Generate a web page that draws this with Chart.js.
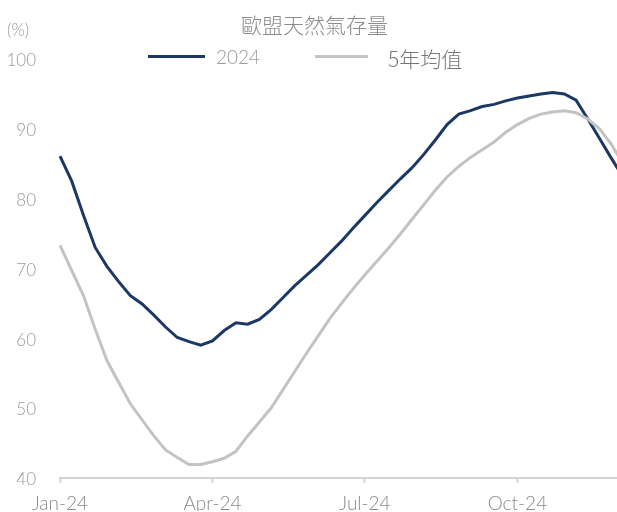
<!DOCTYPE html>
<html>
<head>
<meta charset="utf-8">
<script src="https://cdn.jsdelivr.net/npm/chart.js@4/dist/chart.umd.min.js"></script>
<style>
  html, body { margin: 0; padding: 0; background: #fff; overflow: hidden; }
  body { width: 617px; height: 512px; position: relative; font-family: Lato, "Liberation Sans", sans-serif; }
  #wrap { position: absolute; left: 0; top: 0; width: 633px; height: 512px; }
  .txt { position: absolute; white-space: nowrap; line-height: 1; }
  #title { left: 241px; top: 9px; font: 300 21px "Noto Sans CJK TC", sans-serif; color: #8c8c8c; }
  #unit { left: 7px; top: 19px; font: 300 17px Lato, sans-serif; color: #9a9a9a; }
  .swatch { position: absolute; height: 3px; top: 55px; }
  #lg1 { left: 216px; top: 45px; font: 300 19px Lato, sans-serif; color: #9a9a9a; }
  #lg2 { left: 388px; top: 43px; font: 300 21px "Noto Sans CJK TC", sans-serif; color: #777; }
</style>
</head>
<body>
<div id="wrap"><canvas id="chart" width="633" height="512"></canvas></div>
<div class="txt" id="title">歐盟天然氣存量</div>
<div class="txt" id="unit">(%)</div>
<div class="swatch" style="left:148px;width:57px;background:#1c3966;"></div>
<div class="txt" id="lg1">2024</div>
<div class="swatch" style="left:315px;width:53px;background:#c3c3c3;"></div>
<div class="txt" id="lg2">5年均值</div>
<script>
// weekly observations, starting 1 Jan 2024
const weeks = [
  '01-01','01-08','01-15','01-22','01-29','02-05','02-12','02-19','02-26',
  '03-04','03-11','03-18','03-25','04-01','04-08','04-15','04-22','04-29',
  '05-06','05-13','05-20','05-27','06-03','06-10','06-17','06-24','07-01',
  '07-08','07-15','07-22','07-29','08-05','08-12','08-19','08-26','09-02',
  '09-09','09-16','09-23','09-30','10-07','10-14','10-21','10-28','11-04',
  '11-11','11-18','11-25','12-02'
];
const quarterTicks = ['Jan-24', 'Apr-24', 'Jul-24', 'Oct-24'];
const yTicks = [40, 50, 60, 70, 80, 90, 100];

const storage2024 = [
  86.1, 82.5, 77.6, 73.0, 70.3, 68.1, 66.1, 64.9, 63.3, 61.6, 60.1, 59.5, 59.0,
  59.6, 61.1, 62.2, 62.0, 62.7, 64.1, 65.8, 67.5, 69.0, 70.5, 72.2, 73.9, 75.8,
  77.6, 79.4, 81.1, 82.8, 84.4, 86.3, 88.4, 90.6, 92.1, 92.6, 93.2, 93.5, 94.0,
  94.4, 94.7, 95.0, 95.2, 95.0, 94.1, 91.4, 88.6, 85.8, 83.1
];
const avg5y = [
  73.3, 69.7, 66.1, 61.3, 56.8, 53.7, 50.6, 48.3, 46.0, 44.0, 42.9, 41.9, 41.9,
  42.3, 42.8, 43.8, 46.0, 48.0, 50.0, 52.6, 55.2, 57.8, 60.3, 62.8, 65.0, 67.1,
  69.1, 71.0, 72.9, 74.9, 77.0, 79.1, 81.2, 83.1, 84.6, 85.9, 87.0, 88.1, 89.5,
  90.6, 91.5, 92.1, 92.4, 92.6, 92.3, 91.4, 90.0, 87.8, 85.0
];

const yFont = { family: 'Lato, "Liberation Sans", sans-serif', size: 17, weight: '300' };
const xFont = { family: 'Lato, "Liberation Sans", sans-serif', size: 19, weight: '300' };
const isQuarter = i => i % 13 === 0 && i / 13 < quarterTicks.length;

new Chart(document.getElementById('chart'), {
  type: 'line',
  data: {
    labels: weeks,
    datasets: [
      { label: '5年均值', data: avg5y, borderColor: '#c3c3c3', borderWidth: 3, pointRadius: 0, tension: 0 },
      { label: '2024', data: storage2024, borderColor: '#1c3966', borderWidth: 3, pointRadius: 0, tension: 0 }
    ]
  },
  options: {
    responsive: false,
    animation: false,
    layout: { padding: { top: 59, right: 0, left: 0, bottom: 0 } },
    plugins: { legend: { display: false }, title: { display: false }, tooltip: { enabled: false } },
    scales: {
      x: {
        offset: false,
        border: { color: '#d3d3d3', width: 2 },
        grid: {
          drawOnChartArea: false,
          drawTicks: true,
          tickLength: 5,
          tickWidth: 2,
          tickColor: ctx => isQuarter(ctx.index) ? '#d3d3d3' : 'rgba(0,0,0,0)'
        },
        ticks: {
          autoSkip: false,
          maxRotation: 0,
          padding: 10,
          color: '#8a8a8a',
          font: xFont,
          callback: (v, i) => isQuarter(i) ? quarterTicks[i / 13] : ''
        },
        afterFit: s => { s.height = 33; }
      },
      y: {
        min: yTicks[0],
        max: yTicks[yTicks.length - 1],
        border: { display: false },
        grid: { display: false, drawTicks: false },
        afterBuildTicks: s => { s.ticks = yTicks.map(v => ({ value: v })); },
        ticks: { padding: 24, labelOffset: 2, color: '#9a9a9a', font: yFont },
        afterFit: s => { s.width = 60; }
      }
    }
  }
});
</script>
</body>
</html>
